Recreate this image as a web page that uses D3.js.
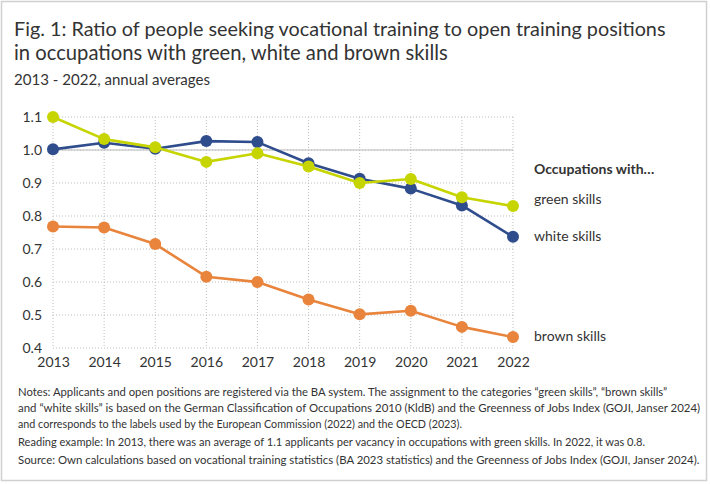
<!DOCTYPE html>
<html>
<head>
<meta charset="utf-8">
<script src="https://cdn.jsdelivr.net/npm/d3@7"></script>
<style>
  body{margin:0;background:#fff;}
  svg text{font-family:Lato,"Open Sans",sans-serif;fill:#333;}
</style>
</head>
<body>
<script>
// data
var years = [2013,2014,2015,2016,2017,2018,2019,2020,2021,2022];
var green = [1.10,1.033,1.008,0.964,0.99,0.95,0.90,0.912,0.857,0.83];
var white = [1.002,1.022,1.004,1.027,1.024,0.96,0.913,0.883,0.832,0.737];
var brown = [0.768,0.765,0.715,0.616,0.60,0.547,0.502,0.513,0.464,0.433];
var yTicks = [0.4,0.5,0.6,0.7,0.8,0.9,1.0,1.1];
var seriesNames = ['brown skills','white skills','green skills'];
var notes = [
  'Notes: Applicants and open positions are registered via the BA system. The assignment to the categories \u201cgreen skills\u201d, \u201cbrown skills\u201d',
  'and \u201cwhite skills\u201d is based on the German Classification of Occupations 2010 (KldB) and the Greenness of Jobs Index (GOJI, Janser 2024)',
  'and corresponds to the labels used by the European Commission (2022) and the OECD (2023).',
  'Reading example: In 2013, there was an average of 1.1 applicants per vacancy in occupations with green skills. In 2022, it was 0.8.',
  'Source: Own calculations based on vocational training statistics (BA 2023 statistics) and the Greenness of Jobs Index (GOJI, Janser 2024).'
];

var W = 710, H = 484;
var svg = d3.select('body').append('svg').attr('width',W).attr('height',H);

// frame
svg.append('rect').attr('x',1.5).attr('y',1.5).attr('width',W-5).attr('height',H-5)
  .attr('fill','#fff').attr('stroke','#d0d0d0').attr('stroke-width',1.5);

// helper: shrink/grow font size so the text is w pixels wide
function fit(t,w){
  var fs = parseFloat(t.style('font-size'));
  var len = t.node().getComputedTextLength();
  t.style('font-size',(fs*w/len).toFixed(2)+'px');
  return t;
}

// title
fit(svg.append('text').attr('x',14).attr('y',36).style('font-size','22px')
  .text('Fig. 1: Ratio of people seeking vocational training to open training positions'),652);
fit(svg.append('text').attr('x',14).attr('y',60).style('font-size','22px')
  .text('in occupations with green, white and brown skills'),434);
fit(svg.append('text').attr('x',14).attr('y',85).style('font-size','14.5px')
  .text('2013 - 2022, annual averages'),196);

// scales
var x = d3.scalePoint().domain(years).range([53,513]);
var y = d3.scaleLinear().domain([0.4,1.1]).range([348,117]);

// grid
var grid = svg.append('g');
grid.selectAll('.h').data(yTicks).enter().append('line')
  .attr('x1',x(2013)).attr('x2',x(2022))
  .attr('y1',d=>y(d)).attr('y2',d=>y(d))
  .attr('stroke','#bdbdbd').attr('stroke-dasharray','1,2');
grid.selectAll('.v').data(years).enter().append('line')
  .attr('x1',d=>x(d)).attr('x2',d=>x(d))
  .attr('y1',y(1.1)).attr('y2',y(0.4))
  .attr('stroke','#bdbdbd').attr('stroke-dasharray','1,2');
grid.append('line').attr('x1',x(2013)).attr('x2',x(2022))
  .attr('y1',y(1.0)).attr('y2',y(1.0))
  .attr('stroke','#bbbbbb').attr('stroke-width',1.2);

// axes
var yAxis = d3.axisLeft(y).tickValues(yTicks).tickSize(0).tickPadding(11)
  .tickFormat(d3.format('.1f'));
var yG = svg.append('g').attr('transform','translate('+x(2013)+',0)').call(yAxis);
var xAxis = d3.axisBottom(x).tickSize(0).tickPadding(9).tickFormat(d3.format('d'));
var xG = svg.append('g').attr('transform','translate(0,'+y(0.4)+')').call(xAxis);
[yG,xG].forEach(g=>{
  g.select('.domain').remove();
  g.selectAll('text').style('font-size','14px').style('font-family','Lato,sans-serif').attr('fill','#333');
});

// series
var series = [
  {name:seriesNames[0],values:brown,color:'#e8843c',dy:4},
  {name:seriesNames[1],values:white,color:'#2f4c8c',dy:4},
  {name:seriesNames[2],values:green,color:'#c6d400',dy:-2}
];
var line = d3.line().x((d,i)=>x(years[i])).y(d=>y(d));
series.forEach(s=>{
  var g = svg.append('g');
  g.append('path').attr('d',line(s.values)).attr('fill','none')
    .attr('stroke',s.color).attr('stroke-width',2.6).attr('stroke-linejoin','round');
  g.selectAll('circle').data(s.values).enter().append('circle')
    .attr('cx',(d,i)=>x(years[i])).attr('cy',d=>y(d)).attr('r',6)
    .attr('fill',s.color);
  g.append('text').attr('x',534).attr('y',y(s.values[s.values.length-1])+s.dy)
    .style('font-size','14px').text(s.name);
});
svg.append('text').attr('x',534).attr('y',174).style('font-size','14px')
  .style('font-weight','bold').text('Occupations with\u2026');

// notes
var noteY = [396,412,428,446,464];
var noteW = [650,682,444,628,682];
notes.forEach((n,i)=>{
  fit(svg.append('text').attr('x',18).attr('y',noteY[i]).style('font-size','11.5px').text(n),noteW[i]);
});
</script>
</body>
</html>
